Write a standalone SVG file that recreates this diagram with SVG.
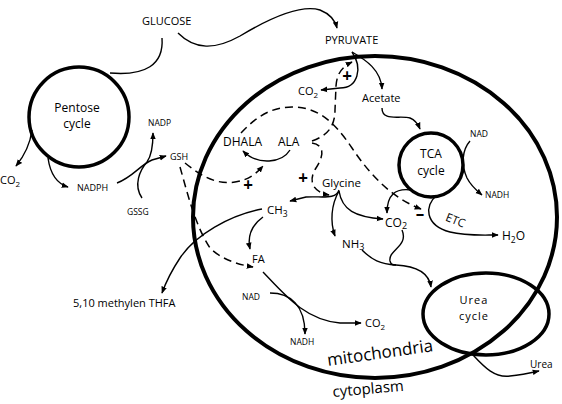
<svg xmlns="http://www.w3.org/2000/svg" width="562" height="404" viewBox="0 0 562 404">
<style>
text{font-family:"Open Sans","Noto Sans","Liberation Sans",sans-serif;fill:#000}
.big{fill:none;stroke:#000;stroke-width:4}
.cyc{fill:none;stroke:#000;stroke-width:3.5}
.ln{fill:none;stroke:#000;stroke-width:1.4}
.ar{marker-end:url(#ah)}
.ds{fill:none;stroke:#000;stroke-width:1.5;stroke-dasharray:8 5}
.sign{font-weight:bold;font-size:17px;text-anchor:middle}
.mid{text-anchor:middle}
</style>
<defs>
<marker id="ah" viewBox="0 0 10 10" refX="9" refY="5" markerWidth="7" markerHeight="7" markerUnits="userSpaceOnUse" orient="auto"><path d="M0,1 L10,5 L0,9 z"/></marker>
</defs>
<rect width="562" height="404" fill="#fff"/>
<g id="mitochondria"><ellipse class="big" cx="375" cy="217" rx="182" ry="161"/>
<text x="328" y="366" font-size="17" transform="rotate(-8 328 366)">mitochondria</text></g>
<g id="cytoplasm"><text x="333" y="397" font-size="15" transform="rotate(-5 333 397)">cytoplasm</text></g>
<g id="pentose"><circle class="cyc" cx="79" cy="117" r="50"/>
<text class="mid" x="77" y="112" font-size="12">Pentose</text><text class="mid" x="77" y="128" font-size="12">cycle</text></g>
<g id="tca"><circle class="cyc" cx="431" cy="165" r="32"/>
<text class="mid" x="431" y="158" font-size="12">TCA</text><text class="mid" x="431" y="175" font-size="12">cycle</text></g>
<g id="urea-cycle"><ellipse class="cyc" cx="486" cy="314" rx="63" ry="41"/>
<text class="mid" x="474" y="304" font-size="11" letter-spacing="1">Urea</text><text class="mid" x="474" y="320" font-size="11" letter-spacing="1">cycle</text></g>
<g id="glucose"><text x="142" y="25" font-size="11">GLUCOSE</text></g>
<g id="pyruvate"><text x="325" y="44" font-size="11">PYRUVATE</text></g>
<g id="co2-top"><text x="298" y="95" font-size="11">CO<tspan dy="3" font-size="8">2</tspan></text></g>
<g id="acetate"><text x="362" y="102" font-size="11">Acetate</text></g>
<g id="dhala"><text x="223" y="146" font-size="12">DHALA</text></g>
<g id="ala"><text x="278" y="146" font-size="12">ALA</text></g>
<g id="nad-top"><text x="470" y="137" font-size="8.5">NAD</text></g>
<g id="nadh-top"><text x="485" y="198" font-size="8.5">NADH</text></g>
<g id="glycine"><text x="322" y="187" font-size="11.5">Glycine</text></g>
<g id="ch3"><text x="267" y="214" font-size="11.5">CH<tspan dy="3" font-size="8.5">3</tspan></text></g>
<g id="co2-mid"><text x="385" y="227" font-size="12">CO<tspan dy="2" font-size="9">2</tspan></text></g>
<g id="etc"><text class="mid" x="454" y="224" font-size="11.5" transform="rotate(22 454 224)">ETC</text></g>
<g id="h2o"><text x="502" y="240" font-size="12">H<tspan dy="3" font-size="8.5">2</tspan><tspan dy="-3">O</tspan></text></g>
<g id="nh3"><text x="342" y="248" font-size="11.5">NH<tspan dy="2" font-size="9">3</tspan></text></g>
<g id="fa"><text x="252" y="263" font-size="11">FA</text></g>
<g id="thfa"><text x="73" y="307" font-size="11">5,10 methylen THFA</text></g>
<g id="nad-bot"><text x="242" y="300" font-size="8.5">NAD</text></g>
<g id="nadh-bot"><text x="290" y="345" font-size="8.5">NADH</text></g>
<g id="co2-bot"><text x="365" y="327" font-size="11">CO<tspan dy="3" font-size="8">2</tspan></text></g>
<g id="urea"><text x="530" y="368" font-size="10">Urea</text></g>
<g id="co2-left"><text x="0" y="184" font-size="11">CO<tspan dy="3" font-size="8">2</tspan></text></g>
<g id="nadph"><text x="77" y="191" font-size="9">NADPH</text></g>
<g id="gssg"><text x="127" y="215" font-size="8.5">GSSG</text></g>
<g id="nadp"><text x="148" y="126" font-size="8.5">NADP</text></g>
<g id="gsh"><text x="170" y="160" font-size="9">GSH</text></g>
<g id="signs">
<text class="sign" x="347" y="82">+</text>
<text class="sign" x="303" y="184">+</text>
<text class="sign" x="248" y="191">+</text>
<text class="sign" x="420" y="220">–</text>
</g>
<g id="connectors">
<path class="ln" d="M162,38 C164,65 145,76 110,73"/>
<path class="ln ar" d="M178,33 C195,50 215,50 240,36 C270,18 300,4 320,10 C330,14 335,20 337,28"/>
<path class="ln ar" d="M352,52 C366,60 381,70 382,89"/>
<path class="ln ar" d="M352,52 C363,68 358,88 340,88 L321,90"/>
<path class="ds ar" d="M312,141 C326,136 335,128 335,110 L336,86 C337,73 342,67 352,62"/>
<path class="ds ar" d="M241,133 C255,118 270,107 292,107 C315,107 332,118 352,148 C370,175 392,198 421,209"/>
<path class="ln ar" d="M290,150 C282,163 258,166 243,151"/>
<path class="ds ar" d="M312,143 C325,145 324,156 316,168 C308,180 312,192 329,195"/>
<path class="ln ar" d="M339,190 C336,200 322,196 306,197 L290,201"/>
<path class="ln ar" d="M339,191 C331,205 330,222 335,236"/>
<path class="ln ar" d="M339,191 C342,210 355,217 383,219"/>
<path class="ln ar" d="M382,108 C382,122 400,115 410,118 C415,120 418,124 420,129"/>
<path class="ln ar" d="M470,141 C462,150 461,165 467,178 C471,186 476,190 482,195"/>
<path class="ln ar" d="M411,190 C395,188 387,195 387,213"/>
<path class="ln ar" d="M436,196 C425,205 424,225 450,232 C465,236 480,235 498,235"/>
<path class="ln" d="M402,230 C409,246 388,250 390,261 C391,265 393,265 396,265"/>
<path class="ln ar" d="M362,250 C372,260 380,264 396,265 C416,266 429,273 431,287"/>
<path class="ln ar" d="M473,355 C485,368 495,378 510,376 C520,375 530,373 539,371"/>
<path class="ln ar" d="M32,130 C30,145 25,155 16,166"/>
<path class="ln ar" d="M48,158 C50,172 55,183 68,187"/>
<path class="ln ar" d="M117,183 C133,177 140,165 152,160 L166,156"/>
<path class="ln ar" d="M142,198 C133,185 140,170 147,162 C152,155 153,145 153,133"/>
<path class="ds ar" d="M185,163 C200,175 215,185 235,182 C248,180 255,175 263,166"/>
<path class="ds ar" d="M180,167 C188,195 195,225 210,248 C220,258 235,264 253,267"/>
<path class="ln ar" d="M262,209 C230,215 195,235 180,258 C172,270 166,282 162,293"/>
<path class="ln ar" d="M263,217 C252,225 247,235 250,249"/>
<path class="ln ar" d="M263,272 C285,295 305,320 340,323 L361,323"/>
<path class="ln ar" d="M270,293 C290,293 305,305 305,334"/>
</g>
</svg>
